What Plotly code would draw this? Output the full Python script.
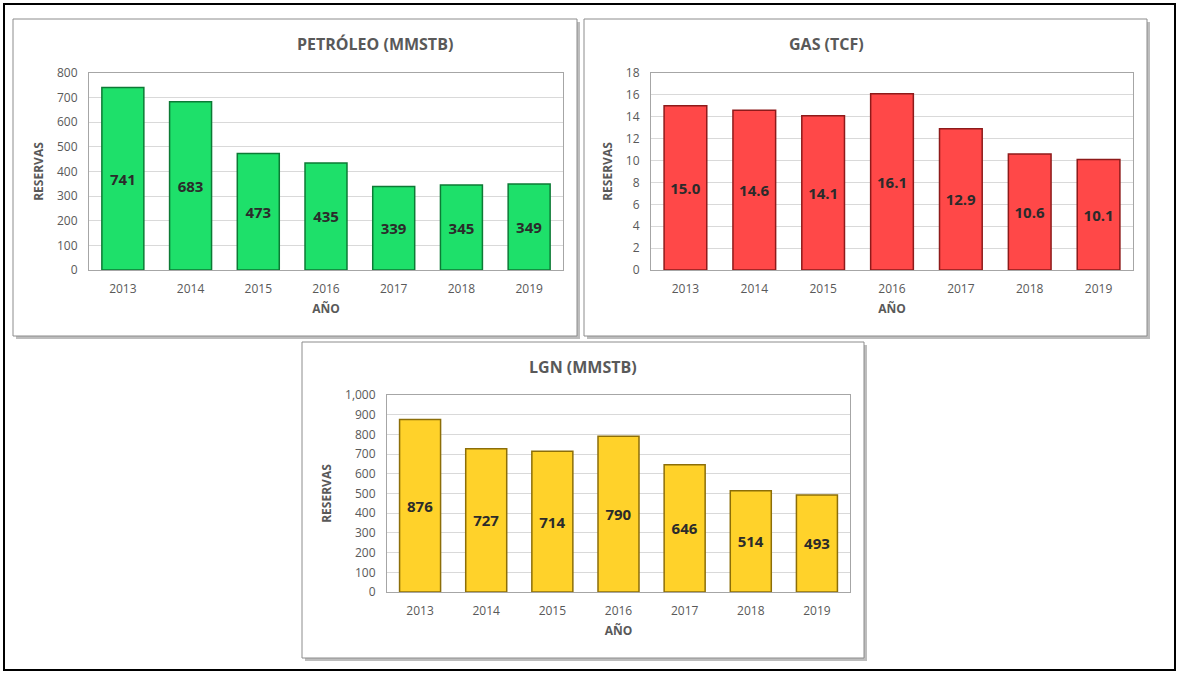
import plotly.graph_objects as go

W, H = 1179, 675

anios = ["2013", "2014", "2015", "2016", "2017", "2018", "2019"]
petroleo = [741, 683, 473, 435, 339, 345, 349]
gas = [15.0, 14.6, 14.1, 16.1, 12.9, 10.6, 10.1]
lgn = [876, 727, 714, 790, 646, 514, 493]

titulos = ["PETRÓLEO (MMSTB)", "GAS (TCF)", "LGN (MMSTB)"]

FONT = "Open Sans"
GRIS = "#595959"


def px(x):
    return x / W


def py(y):
    return 1 - y / H


# (caja del panel, área de trazado) en píxeles: x0, y0, x1, y1
paneles = [
    ((13, 19, 577, 336), (89, 73, 563, 270)),
    ((584, 19, 1147, 336), (651, 73, 1133, 270)),
    ((302, 342, 864, 658), (387, 395, 850, 592)),
]

series = [
    (petroleo, "#1EE06A", "#0C7A35", [str(v) for v in petroleo], [0, 800], 100, ",d"),
    (gas, "#FF4848", "#8E1A1A", [f"{v:.1f}" for v in gas], [0, 18], 2, "d"),
    (lgn, "#FFD22A", "#8C6E08", [str(v) for v in lgn], [0, 1000], 100, ",d"),
]

fig = go.Figure()
shapes = []
annotations = []

# marco exterior
shapes.append(dict(type="rect", xref="paper", yref="paper",
                   x0=px(4), y0=py(670), x1=px(1175), y1=py(4),
                   line=dict(color="black", width=2), layer="below"))

for i, ((caja, area), (vals, color, borde, textos, rng, dt, fmt)) in enumerate(zip(paneles, series)):
    n = "" if i == 0 else str(i + 1)
    bx0, by0, bx1, by1 = caja
    ax0, ay0, ax1, ay1 = area
    # sombra y caja del panel
    shapes.append(dict(type="rect", xref="paper", yref="paper",
                       x0=px(bx0 + 3), y0=py(by1 + 3), x1=px(bx1 + 3), y1=py(by0 + 3),
                       line=dict(width=0), fillcolor="#BDBDBD", layer="below"))
    shapes.append(dict(type="rect", xref="paper", yref="paper",
                       x0=px(bx0), y0=py(by1), x1=px(bx1), y1=py(by0),
                       line=dict(color="#8C8C8C", width=1), fillcolor="white", layer="below"))

    fig.add_trace(go.Bar(
        x=anios, y=vals, xaxis="x" + n, yaxis="y" + n,
        marker=dict(color=color, line=dict(color=borde, width=1.5)),
        text=textos, textposition="inside", insidetextanchor="middle",
        textangle=0,
        textfont=dict(family=FONT, size=15, color="#2B2B2B", weight="bold"),
        showlegend=False, hoverinfo="x+y",
    ))

    fig.layout["xaxis" + n] = dict(
        domain=[px(ax0), px(ax1)], anchor="y" + n, automargin=False,
        showline=True, linecolor="#A6A6A6", mirror=True, ticks="",
        ticklabelstandoff=8,
        tickfont=dict(family=FONT, size=12, color=GRIS),
        title=dict(text="<b>AÑO</b>", font=dict(family=FONT, size=12, color=GRIS), standoff=8),
        fixedrange=True,
    )
    fig.layout["yaxis" + n] = dict(
        domain=[py(ay1), py(ay0)], anchor="x" + n, automargin=False,
        range=rng, dtick=dt, tickformat=fmt,
        showline=True, linecolor="#A6A6A6", mirror=True,
        gridcolor="#D9D9D9", ticks="", zeroline=False,
        ticklabelstandoff=8,
        tickfont=dict(family=FONT, size=12, color=GRIS),
        title=dict(text="<b>RESERVAS</b>", font=dict(family=FONT, size=12, color=GRIS), standoff=10),
        fixedrange=True,
    )

    annotations.append(dict(
        xref="paper", yref="paper", x=px((bx0 + bx1) / 2), y=py(by0 + 25),
        text="<b>" + titulos[i] + "</b>", showarrow=False,
        font=dict(family=FONT, size=16, color=GRIS), yanchor="middle",
    ))

fig.update_layout(
    width=W, height=H, autosize=False,
    margin=dict(l=0, r=0, t=0, b=0, pad=0, autoexpand=False),
    paper_bgcolor="white", plot_bgcolor="white",
    bargap=0.38,
    shapes=shapes, annotations=annotations,
)

fig.write_html("out.html", config={"displayModeBar": False},
               post_script="document.body.style.margin='0';document.body.style.overflow='hidden';")
